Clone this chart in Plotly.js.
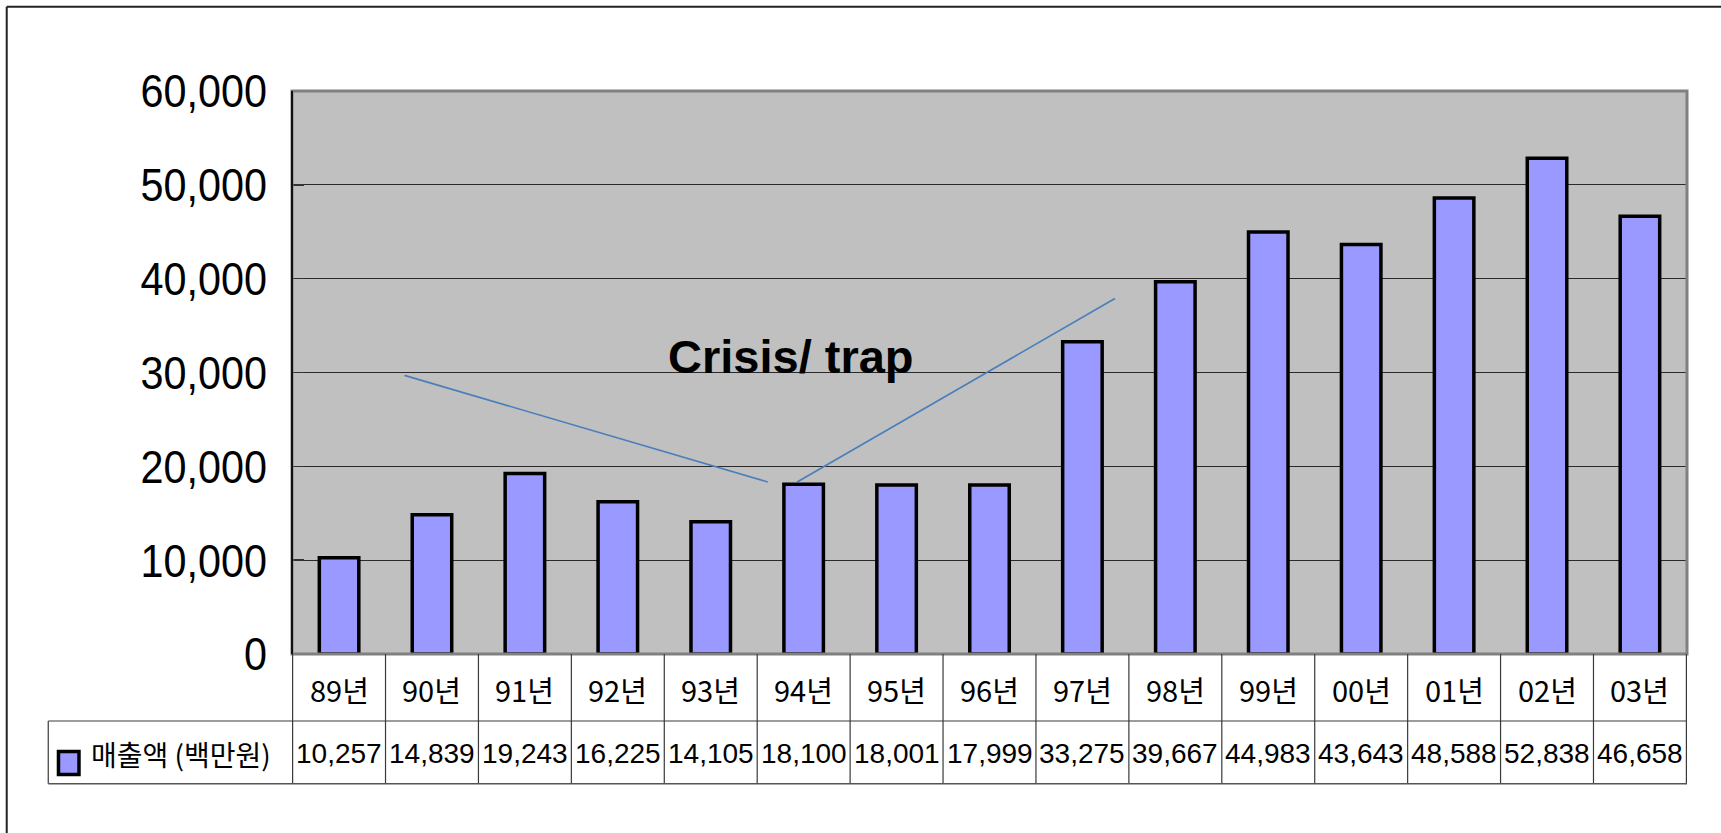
<!DOCTYPE html>
<html>
<head>
<meta charset="utf-8">
<script src="https://cdn.plot.ly/plotly-3.0.1.min.js"></script>
<style>
html,body{margin:0;padding:0;background:#fff;}
#chart{width:1721px;height:833px;}
</style>
</head>
<body>
<div id="chart"></div>
<script>
// ---- data ----
const years = ['89년','90년','91년','92년','93년','94년','95년','96년','97년','98년','99년','00년','01년','02년','03년'];
const sales = [10257,14839,19243,16225,14105,18100,18001,17999,33275,39667,44983,43643,48588,52838,46658];
const seriesName = '매출액 (백만원)';
const yTicks = [0,10000,20000,30000,40000,50000,60000];
const noteText = 'Crisis/ trap';

const numFont = 'Liberation Sans, Arial, Noto Sans CJK KR, sans-serif';
const korFont = 'Noto Sans CJK KR, Liberation Sans, sans-serif';

const rowTop = 0, rowMid = -0.119, rowBot = -0.2304, legLeft = -0.1747;
const lineCol = '#3a3a3a';

const shapes = [];
const annotations = [];

// outer frame (left and top lines)
shapes.push({type:'line', xref:'paper', yref:'paper', x0:-0.2045, x1:1.05, y0:1.1497, y1:1.1497, line:{color:'#222', width:2}});
shapes.push({type:'line', xref:'paper', yref:'paper', x0:-0.2045, x1:-0.2045, y0:1.1497, y1:-0.33, line:{color:'#222', width:2}});

// plot border
shapes.push({type:'rect', xref:'paper', yref:'paper', x0:0, x1:1, y0:0, y1:1, line:{color:'#808080', width:3}, layer:'above'});
shapes.push({type:'line', xref:'paper', yref:'paper', x0:0, x1:0, y0:0, y1:1, line:{color:'#111', width:2}, layer:'above'});

// table lines
for (let i = 0; i <= years.length; i++) {
  shapes.push({type:'line', xref:'x', yref:'paper', x0:i-0.5, x1:i-0.5, y0:rowTop, y1:rowBot, line:{color:lineCol, width:1.2}});
}
shapes.push({type:'line', xref:'paper', yref:'paper', x0:legLeft, x1:1, y0:rowMid, y1:rowMid, line:{color:lineCol, width:1.2}});
shapes.push({type:'line', xref:'paper', yref:'paper', x0:legLeft, x1:1, y0:rowBot, y1:rowBot, line:{color:'#555', width:1.6}});
shapes.push({type:'line', xref:'paper', yref:'paper', x0:legLeft, x1:legLeft, y0:rowMid, y1:rowBot, line:{color:'#555', width:1.4}});

// legend key
shapes.push({type:'rect', xref:'paper', yref:'paper', x0:-0.1674, x1:-0.1527, y0:-0.1732, y1:-0.2140, fillcolor:'#9999FF', line:{color:'#000', width:3.5}});

// crisis/trap lines
shapes.push({type:'line', xref:'x', yref:'y', x0:0.704, y0:29692, x1:4.614, y1:18331, line:{color:'#4A7EBB', width:1.6}, layer:'above'});
shapes.push({type:'line', xref:'x', yref:'y', x0:4.930, y0:18331, x1:8.35, y1:37888, line:{color:'#4A7EBB', width:1.6}, layer:'above'});

// table text
years.forEach((yr, i) => {
  annotations.push({xref:'x', yref:'paper', x:i, y:-0.0622, text:yr, showarrow:false,
    xanchor:'center', yanchor:'middle', font:{family:korFont, size:29, color:'#000'}});
  annotations.push({xref:'x', yref:'paper', x:i, y:-0.1776, text:sales[i].toLocaleString('en-US'), showarrow:false,
    xanchor:'center', yanchor:'middle', font:{family:numFont, size:28, color:'#000'}});
});
annotations.push({xref:'paper', yref:'paper', x:-0.1455, y:-0.1776, text:seriesName, showarrow:false,
  xanchor:'left', yanchor:'middle', font:{family:korFont, size:28, color:'#000'}});

annotations.push({xref:'x', yref:'y', x:4.866, y:31653, text:'<b>'+noteText+'</b>', showarrow:false,
  xanchor:'center', yanchor:'middle', font:{family:'Liberation Sans, Arial, sans-serif', size:47, color:'#000'}});

const trace = {
  type:'bar', x:years, y:sales, name:seriesName,
  marker:{color:'#9999FF', line:{color:'#000', width:3.5}},
  hoverinfo:'skip'
};

const layout = {
  width:1721, height:833,
  margin:{l:292, r:34, t:91, b:179, pad:0},
  paper_bgcolor:'#fff', plot_bgcolor:'#C0C0C0',
  showlegend:false, bargap:0.575,
  xaxis:{type:'category', showticklabels:false, ticks:'', showgrid:false, zeroline:false, showline:false, fixedrange:true},
  yaxis:{range:[0,60000], tickvals:yTicks, tickformat:',', showgrid:true, gridcolor:'#2a2a2a', gridwidth:1,
    zeroline:false, showline:false, ticks:'inside', ticklen:12, tickcolor:'#333', tickwidth:1.5,
    ticklabelstandoff:24, tickfont:{family:numFont, size:47, color:'#000'}, fixedrange:true},
  shapes:shapes, annotations:annotations
};

Plotly.newPlot('chart', [trace], layout, {displayModeBar:false, staticPlot:true}).then(gd => {
  // narrow the y tick labels horizontally, keeping their right edge in place
  gd.querySelectorAll('.ytick text').forEach(t => {
    const b = t.getBBox();
    const r = b.x + b.width;
    const prev = t.getAttribute('transform') || '';
    t.setAttribute('transform', prev + ' translate(' + r + ',0) scale(0.88,1) translate(' + (-r) + ',0)');
  });
});
</script>
</body>
</html>
